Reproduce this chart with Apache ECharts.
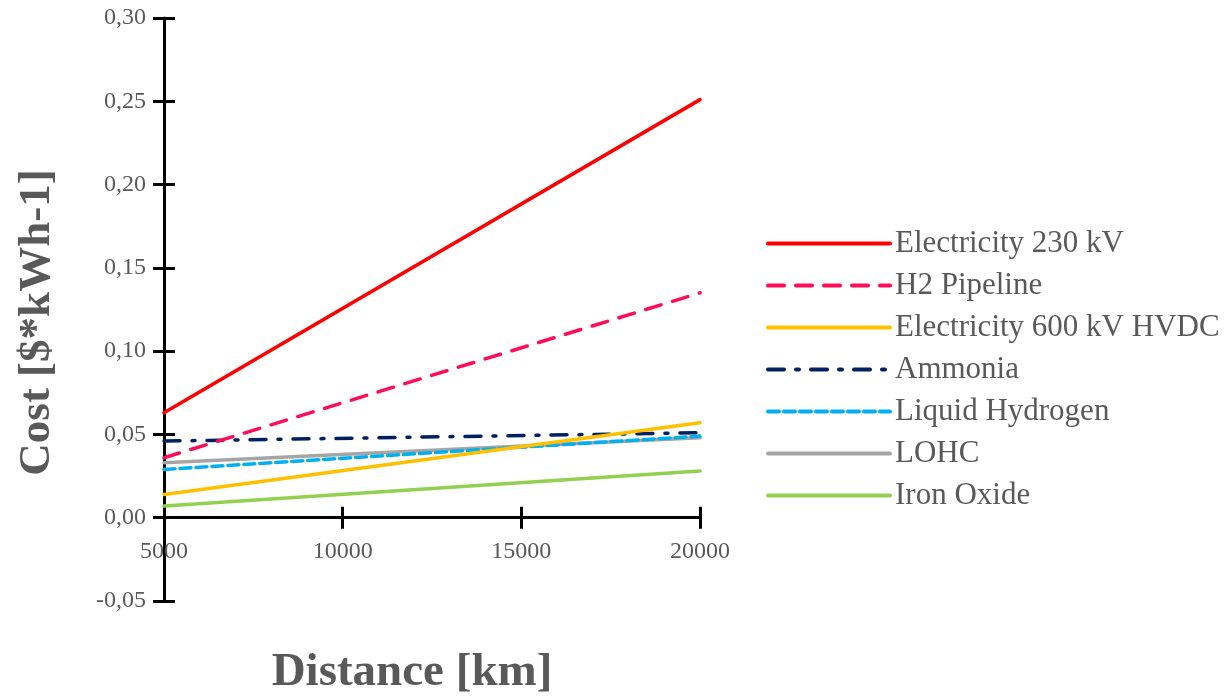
<!DOCTYPE html>
<html>
<head>
<meta charset="utf-8">
<script src="https://cdn.jsdelivr.net/npm/echarts@6/dist/echarts.min.js"></script>
<style>html,body{margin:0;padding:0;background:#fff}#c{width:1230px;height:698px}</style>
</head>
<body>
<div id="c"></div>
<script>
const distances = [5000, 20000];
const seriesNames = ['Electricity 230 kV','H2 Pipeline','Electricity 600 kV HVDC','Ammonia','Liquid Hydrogen','LOHC','Iron Oxide'];
const elec230 = [0.063, 0.251];
const h2Pipeline = [0.036, 0.135];
const elecHvdc = [0.014, 0.057];
const ammonia = [0.046, 0.051];
const liquidH2 = [0.029, 0.049];
const lohc = [0.033, 0.048];
const ironOxide = [0.007, 0.028];
const yTicks = [-0.05, 0, 0.05, 0.10, 0.15, 0.20, 0.25, 0.30];
const xTicks = [5000, 10000, 15000, 20000];

const values = [elec230, h2Pipeline, elecHvdc, ammonia, liquidH2, lohc, ironOxide];
const colors = ['#FF0000','#FF0D57','#FFC000','#002060','#00B0F0','#A5A5A5','#92D050'];
const types = ['solid',[16,12],'solid',[16,12,3,12],[11,5],'solid','solid'];
const FONT = '"Liberation Serif","Times New Roman",serif';
const GRAY = '#595959';

const GRID_TOP = 18, GRID_BOTTOM = 97, H = 698;
const yMin = yTicks[0], yMax = yTicks[yTicks.length-1];
// offset that moves the x axis from the grid bottom up to the y = 0 level
const plotH = H - GRID_TOP - GRID_BOTTOM;
const zeroOffset = -plotH * (0 - yMin) / (yMax - yMin);

const chart = echarts.init(document.getElementById('c'), null, {renderer:'canvas'});
const common = {min: yMin, max: yMax, interval: 0.05};
const option = {
  backgroundColor: '#fff',
  animation: false,
  grid: {left: 164, right: 530, top: GRID_TOP, bottom: GRID_BOTTOM, containLabel: false, outerBoundsMode: 'none'},
  legend: {
    orient: 'vertical', left: 766, top: 228, padding: 0,
    itemWidth: 122, itemHeight: 14, itemGap: 11,
    itemStyle: {opacity: 0},
    lineStyle: {width: 4},
    textStyle: {fontFamily: FONT, fontSize: 31, color: GRAY, lineHeight: 31},
    data: seriesNames
  },
  xAxis: [{
    type: 'value', position: 'bottom', offset: zeroOffset,
    min: xTicks[0], max: xTicks[xTicks.length-1], interval: 5000,
    axisLine: {onZero: false, lineStyle: {color: '#000', width: 3}},
    axisTick: {show: true, inside: false, length: 11, lineStyle: {color: '#000', width: 3}},
    axisLabel: {fontFamily: FONT, fontSize: 24, color: GRAY, margin: 22, formatter: v => String(v)},
    splitLine: {show: false},
    name: 'Distance [km]', nameLocation: 'middle', nameGap: 132,
    nameTextStyle: {fontFamily: FONT, fontSize: 47, fontWeight: 'bold', color: GRAY, padding: [0, 40, 0, 0]}
  }, {
    type: 'value', position: 'bottom', offset: zeroOffset,
    min: xTicks[0], max: xTicks[xTicks.length-1], interval: 5000,
    axisLine: {show: false, onZero: false},
    axisTick: {show: true, inside: true, length: 11, lineStyle: {color: '#000', width: 3}},
    axisLabel: {show: false}, splitLine: {show: false}
  }],
  yAxis: [Object.assign({
    type: 'value', position: 'left',
    axisLine: {show: true, onZero: false, lineStyle: {color: '#000', width: 3}},
    axisTick: {show: true, inside: false, length: 11, lineStyle: {color: '#000', width: 3}},
    axisLabel: {fontFamily: FONT, fontSize: 24, color: GRAY, margin: 18, formatter: v => v.toFixed(2).replace('.', ',')},
    splitLine: {show: false},
    name: 'Cost [$*kWh-1]', nameLocation: 'middle', nameGap: 104,
    nameTextStyle: {fontFamily: FONT, fontSize: 45, fontWeight: 'bold', color: GRAY, padding: [0, 26, 0, 0]}
  }, common), Object.assign({
    type: 'value', position: 'left',
    axisLine: {show: false, onZero: false},
    axisTick: {show: true, inside: true, length: 11, lineStyle: {color: '#000', width: 3}},
    axisLabel: {show: false}, splitLine: {show: false}
  }, common)],
  series: seriesNames.map((name, i) => ({
    name: name, type: 'line', xAxisIndex: 0, yAxisIndex: 0,
    showSymbol: false, symbol: 'none',
    data: distances.map((d, j) => [d, values[i][j]]),
    lineStyle: {color: colors[i], width: 3.5, type: types[i], cap: 'round'},
    itemStyle: {color: colors[i]},
    z: 10 - i
  }))
};
chart.setOption(option);
</script>
</body>
</html>
